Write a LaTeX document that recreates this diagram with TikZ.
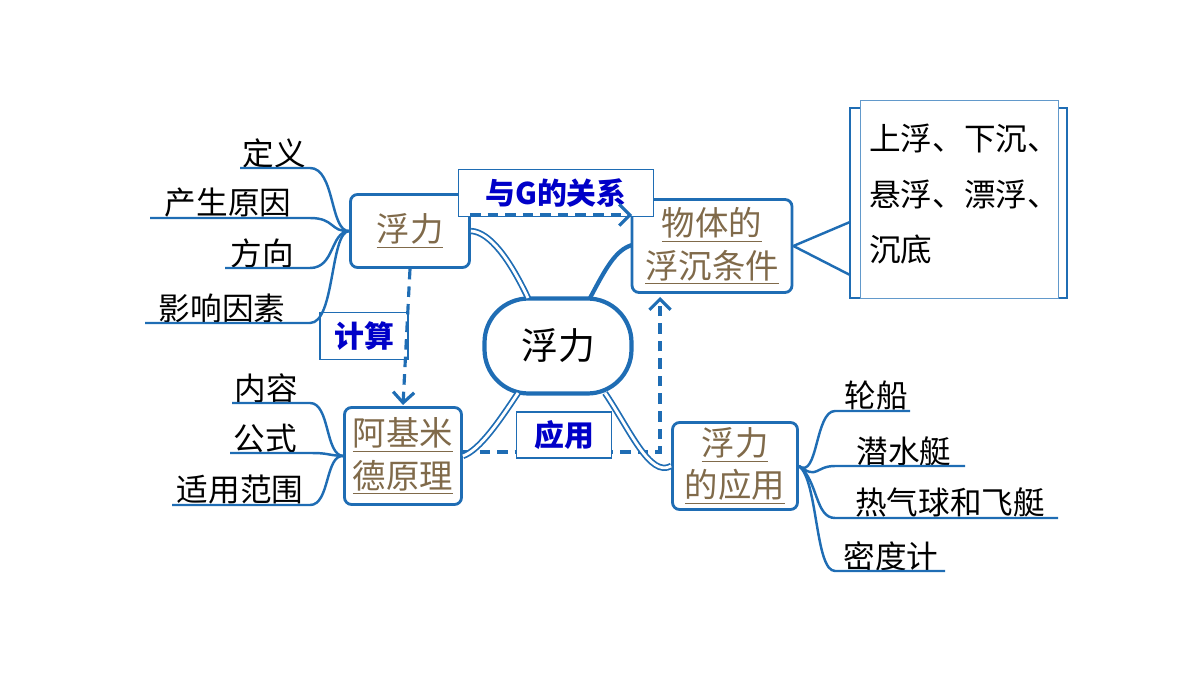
\documentclass[tikz,border=0pt]{standalone}
\usepackage{fontspec}
\setmainfont{Noto Sans CJK SC}
\usetikzlibrary{arrows.meta}
\definecolor{mapblue}{RGB}{31,109,180}
\definecolor{topicbrown}{RGB}{128,106,74}
\definecolor{tagblue}{RGB}{0,0,200}
\tikzset{
  topic/.style={draw=mapblue,line width=1.6pt,rounded corners=4pt,text=topicbrown,
                font=\fontsize{19pt}{24pt}\selectfont,align=center,inner sep=0pt},
  tag/.style={draw=mapblue,fill=white,line width=0.6pt,text=tagblue,
              font=\fontsize{17pt}{19pt}\selectfont\bfseries,inner sep=3pt},
  leaf/.style={font=\fontsize{18pt}{20pt}\selectfont,anchor=south,inner sep=0pt},
  branch/.style={draw=mapblue,line width=1.4pt},
  trunk/.style={draw=mapblue,line width=1pt,double=white,double distance=1.6pt},
  link/.style={draw=mapblue,line width=1.8pt,dash pattern=on 6pt off 4pt,-{Straight Barb[length=6pt]}}
}
\begin{document}
\begin{tikzpicture}[x=0.02cm,y=-0.02cm]
	\useasboundingbox (0,0) rectangle (1200,675);
	% centre
	\node[draw=mapblue,line width=2.4pt,rounded corners=25pt,minimum width=2.94cm,minimum height=1.9cm,
	      font=\fontsize{21pt}{24pt}\selectfont] (root) at (558,346) {浮力};
	% topics
	\node[topic,minimum width=2.38cm,minimum height=1.46cm] (force) at (410,231) {\underline{浮力}};
	\node[topic,minimum width=3.2cm,minimum height=1.86cm] (sink) at (712,246) {\underline{物体的}\\\underline{浮沉条件}};
	\node[topic,minimum width=2.34cm,minimum height=1.94cm] (arch) at (403,456) {\underline{阿基米}\\\underline{德原理}};
	\node[topic,minimum width=2.5cm,minimum height=1.74cm] (use) at (735,466) {\underline{浮力}\\\underline{的应用}};
	% dashed relations
	\node[tag,minimum width=3.9cm,minimum height=0.95cm] (rel) at (556,193) {与\textit{G}的关系};
	\node[tag,minimum width=1.76cm,minimum height=0.95cm] (calc) at (364,336) {计算};
	\draw[link] (force.south) -- (403,405);
	\draw[link] (470,215) -- (632,215);
	\draw[link] (462,452) -- (660,452) -- (660,297);
	\node[tag,minimum width=1.9cm,minimum height=0.92cm] (app) at (564,435) {应用};
	% trunks
	\draw[trunk] (528,298) .. controls (510,260) and (490,232) .. (force.east);
	\draw[branch,line width=2.4pt] (590,298) .. controls (605,270) and (615,250) .. (632,245);
	\draw[trunk] (518,393) .. controls (500,420) and (480,450) .. (arch.east);
	\draw[trunk] (605,393) .. controls (630,430) and (650,478) .. (use.west);
	% leaves of force
	\foreach \x/\y/\l/\t/\n in {274/168/240/定义/a, 228/218/150/产生原因/b, 262/268/225/方向/c, 222/323/145/影响因素/d} {
		\node[leaf] (f\n) at (\x,\y) {\t};
		\draw[branch] (\l,\y) -- (310,\y) .. controls (335,\y) and (330,232) .. (force.west);
	}
	% leaves of arch
	\foreach \x/\y/\l/\t/\n in {266/403/232/内容/a, 265/453/230/公式/b, 240/505/172/适用范围/c} {
		\node[leaf] (a\n) at (\x,\y) {\t};
		\draw[branch] (\l,\y) -- (310,\y) .. controls (330,\y) and (325,455) .. (arch.west);
	}
	% leaves of use
	\foreach \x/\y/\r/\t/\n in {876/411/910/轮船/a, 904/466/965/潜水艇/b, 950/518/1058/热气球和飞艇/c, 891/571/945/密度计/d} {
		\node[leaf] (u\n) at (\x,\y) {\t};
		\draw[branch] (\r,\y) -- (835,\y) .. controls (815,\y) and (818,480) .. (use.east);
	}
	% states
	\draw[mapblue,line width=1.6pt] (860,108) -- (850,108) -- (850,298) -- (1067,298) -- (1067,108) -- (1058,108);
	\node[draw=mapblue!70,fill=white,line width=0.6pt,minimum width=3.96cm,minimum height=3.96cm,anchor=north west] (state) at (860,100) {};
	\node[font=\fontsize{18pt}{31.5pt}\selectfont,align=left,anchor=north west,inner sep=0pt] (statetext) at (869,124) {上浮、下沉、\\悬浮、漂浮、\\沉底};
	\draw[branch] (sink.east) -- (850,222);
	\draw[branch] (sink.east) -- (850,275);
\end{tikzpicture}
\end{document}
